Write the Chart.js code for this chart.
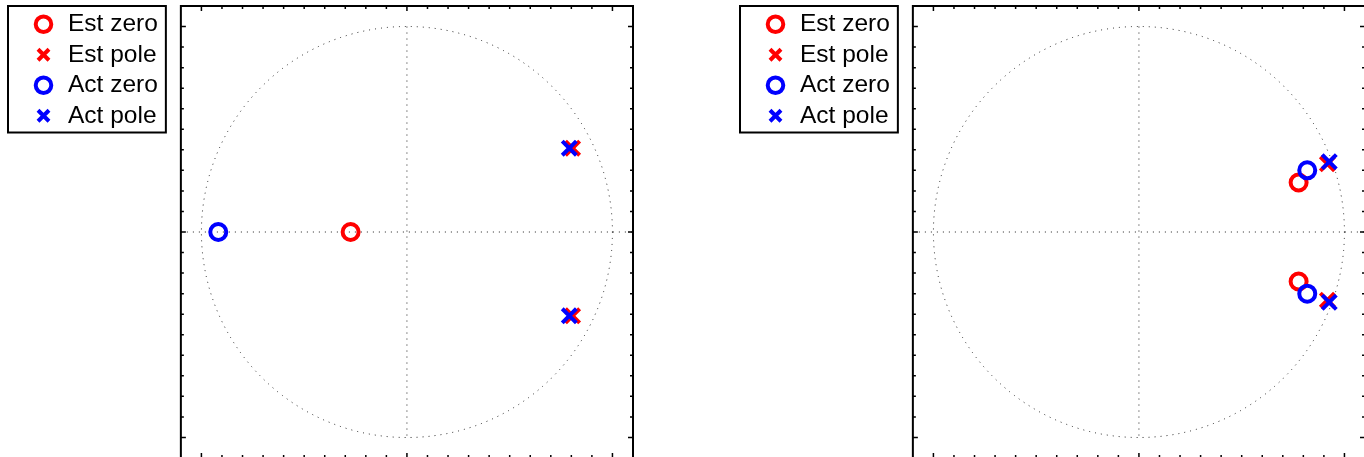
<!DOCTYPE html>
<html>
<head>
<meta charset="utf-8">
<title>Pole-zero maps</title>
<script src="https://cdn.jsdelivr.net/npm/chart.js@4/dist/chart.umd.min.js"></script>
<style>
  html, body { margin: 0; padding: 0; background: #fff; overflow: hidden; width: 1364px; height: 457px; }
  .panel { position: absolute; top: 0; width: 640px; height: 460px; }
  #panelA { left: 0; }
  #panelB { left: 732px; }
</style>
</head>
<body>
<div class="panel" id="panelA"><canvas id="mapA" width="640" height="460"></canvas></div>
<div class="panel" id="panelB"><canvas id="mapB" width="640" height="460"></canvas></div>
<script>
// Legend entries, in the order they are listed
const seriesNames = ['Est zero', 'Est pole', 'Act zero', 'Act pole'];

// Panel A roots (real part, imaginary part)
const estZeroReA = [-0.274];
const estZeroImA = [0];
const estPoleReA = [0.806, 0.806];
const estPoleImA = [0.408, -0.408];
const actZeroReA = [-0.918];
const actZeroImA = [0];
const actPoleReA = [0.790, 0.790];
const actPoleImA = [0.408, -0.408];

// Panel B roots (real part, imaginary part)
const estZeroReB = [0.777, 0.777];
const estZeroImB = [0.241, -0.241];
const estPoleReB = [0.917, 0.917];
const estPoleImB = [0.332, -0.332];
const actZeroReB = [0.819, 0.819];
const actZeroImB = [0.300, -0.300];
const actPoleReB = [0.926, 0.926];
const actPoleImB = [0.342, -0.342];

// Axis limits and tick positions of the z-plane
const axisMin = -1.1;
const axisMax = 1.1;
const majorTicks = [-1, 0, 1];
const minorTicks = [-1, -0.9, -0.8, -0.7, -0.6, -0.5, -0.4, -0.3, -0.2, -0.1, 0,
                    0.1, 0.2, 0.3, 0.4, 0.5, 0.6, 0.7, 0.8, 0.9, 1];

const markerStyles = [
  { color: '#ff0000', shape: 'circle',   radius: 8,  order: 4 },
  { color: '#ff0000', shape: 'crossRot', radius: 10, order: 3 },
  { color: '#0000ff', shape: 'circle',   radius: 8,  order: 2 },
  { color: '#0000ff', shape: 'crossRot', radius: 10, order: 1 }
];

function toPoints(re, im) {
  return re.map((r, i) => ({ x: r, y: im[i] }));
}

function buildDatasets(groups) {
  return groups.map((g, i) => {
    const s = markerStyles[i];
    return {
      label: seriesNames[i],
      data: toPoints(g[0], g[1]),
      showLine: false,
      order: s.order,
      pointStyle: s.shape,
      pointRadius: s.radius,
      pointHoverRadius: s.radius,
      pointBorderWidth: 4,
      borderWidth: 4,
      borderColor: s.color,
      pointBorderColor: s.color,
      backgroundColor: 'rgba(0,0,0,0)',
      pointBackgroundColor: 'rgba(0,0,0,0)'
    };
  });
}

// Unit circle and the real / imaginary axes, dotted
const unitCirclePlugin = {
  id: 'unitCircle',
  beforeDatasetsDraw(chart) {
    const xs = chart.scales.x, ys = chart.scales.y;
    const ctx = chart.ctx;
    const cx = xs.getPixelForValue(0), cy = ys.getPixelForValue(0);
    const r = xs.getPixelForValue(1) - cx;
    ctx.save();
    ctx.strokeStyle = '#222';
    ctx.lineWidth = 1;
    ctx.setLineDash([1, 5]);
    ctx.beginPath();
    ctx.arc(cx, cy, r, 0, Math.PI * 2);
    ctx.stroke();
    ctx.beginPath();
    ctx.moveTo(xs.getPixelForValue(axisMin), cy);
    ctx.lineTo(xs.getPixelForValue(axisMax), cy);
    ctx.stroke();
    ctx.beginPath();
    ctx.moveTo(cx, ys.getPixelForValue(1));
    ctx.lineTo(cx, ys.getPixelForValue(-1));
    ctx.stroke();
    ctx.restore();
  }
};

// Boxed axes with inward tick marks, plus a frame round the legend
const boxAxesPlugin = {
  id: 'boxAxes',
  afterDraw(chart) {
    const ctx = chart.ctx;
    const a = chart.chartArea;
    const xs = chart.scales.x, ys = chart.scales.y;
    ctx.save();
    ctx.strokeStyle = '#000';
    ctx.lineWidth = 1.5;
    ctx.beginPath();
    minorTicks.forEach(v => {
      const len = majorTicks.includes(v) ? 5 : 3;
      const px = xs.getPixelForValue(v);
      ctx.moveTo(px, a.top); ctx.lineTo(px, a.top + len);
      ctx.moveTo(px, a.bottom); ctx.lineTo(px, a.bottom - len);
      const py = ys.getPixelForValue(v);
      ctx.moveTo(a.left, py); ctx.lineTo(a.left + len, py);
      ctx.moveTo(a.right, py); ctx.lineTo(a.right - len, py);
    });
    ctx.stroke();
    ctx.lineWidth = 2;
    ctx.strokeRect(a.left, a.top, a.right - a.left, a.bottom - a.top);

    const lg = chart.legend;
    if (lg && lg.legendHitBoxes && lg.legendHitBoxes.length) {
      const boxes = lg.legendHitBoxes;
      const last = boxes[boxes.length - 1];
      const fx = lg.left - 17.25;
      const fy = lg.top;
      const fr = lg.right - 2;
      const fb = last.top + last.height + 4.5;
      ctx.strokeRect(fx, fy, fr - fx, fb - fy);
    }
    ctx.restore();
  }
};

function makeMap(canvasId, groups) {
  return new Chart(document.getElementById(canvasId), {
    type: 'scatter',
    data: { datasets: buildDatasets(groups) },
    options: {
      responsive: false,
      animation: false,
      events: [],
      layout: { autoPadding: false, padding: { left: 25.25, top: 6, right: 7, bottom: 2 } },
      scales: {
        x: {
          type: 'linear', min: axisMin, max: axisMax, display: false
        },
        y: {
          type: 'linear', min: axisMin, max: axisMax, position: 'left',
          display: true,
          ticks: { display: false },
          grid: { display: false, drawTicks: false },
          border: { display: false },
          afterFit(scale) { scale.width = 13; }
        }
      },
      plugins: {
        tooltip: { enabled: false },
        legend: {
          display: true,
          position: 'left',
          align: 'start',
          labels: {
            usePointStyle: true,
            boxHeight: 11,
            boxWidth: 40,
            padding: 6,
            color: '#000',
            font: { family: '"Liberation Sans", Arial, Helvetica, sans-serif', size: 24.5 },
            sort: (a, b) => a.datasetIndex - b.datasetIndex
          }
        }
      }
    },
    plugins: [unitCirclePlugin, boxAxesPlugin]
  });
}

makeMap('mapA', [
  [estZeroReA, estZeroImA],
  [estPoleReA, estPoleImA],
  [actZeroReA, actZeroImA],
  [actPoleReA, actPoleImA]
]);

makeMap('mapB', [
  [estZeroReB, estZeroImB],
  [estPoleReB, estPoleImB],
  [actZeroReB, actZeroImB],
  [actPoleReB, actPoleImB]
]);
</script>
</body>
</html>
